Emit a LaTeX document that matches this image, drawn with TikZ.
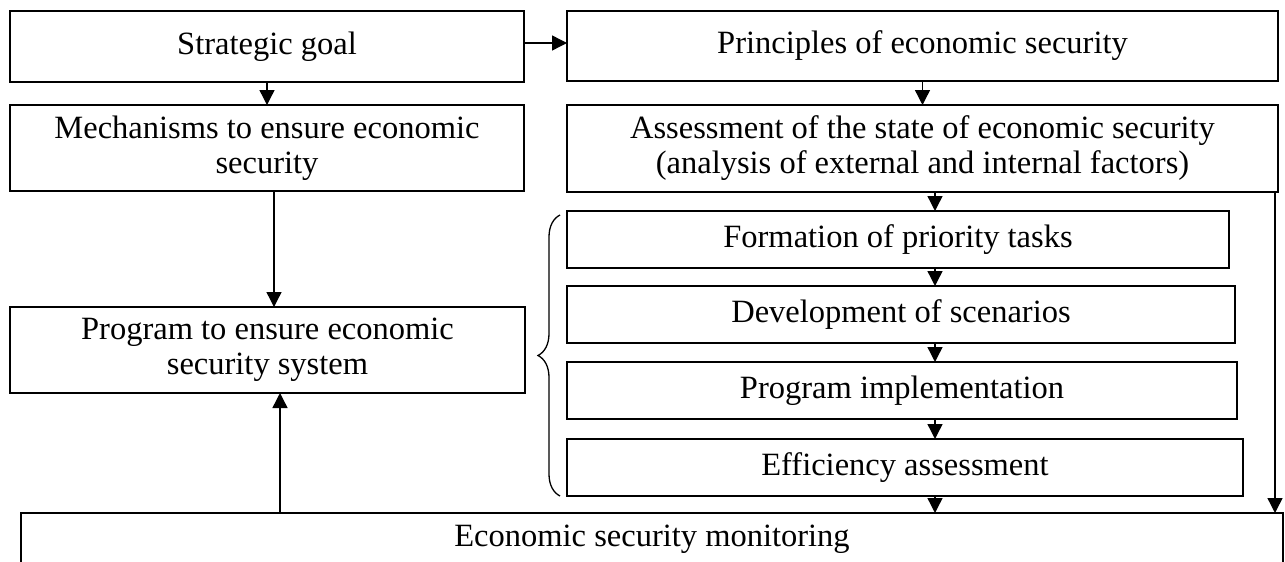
\documentclass[tikz,border=0pt]{standalone}
\usepackage{fontspec}
\setmainfont{Liberation Serif}
\usetikzlibrary{arrows.meta,decorations.pathreplacing,calc}
\begin{document}
\begin{tikzpicture}[x=1pt,y=-1pt,
  box/.style={draw, line width=1.7pt, align=center, inner sep=0pt, outer sep=0pt,
    anchor=north west, font=\fontsize{32.5}{35}\selectfont},
  arr/.style={line width=1.4pt, -{Triangle[length=15pt,width=15pt]}},
  bracestyle/.style={line width=1.3pt, decorate, decoration={brace, amplitude=22pt}}]
\useasboundingbox (0,0) rectangle (1285,562);
% top row
\node[box, minimum width=514pt, minimum height=71pt] (sg) at (10,11) {Strategic goal};
\node[box, minimum width=711pt, minimum height=70pt] (pr) at (567,11) {Principles of economic security};
% second row
\node[box, minimum width=514pt, minimum height=86pt] (me) at (10,105) {Mechanisms to ensure economic\\security};
\node[box, minimum width=711pt, minimum height=87pt] (as) at (567,105) {Assessment of the state of economic security\\(analysis of external and internal factors)};
% left program box
\node[box, minimum width=515pt, minimum height=86pt] (pg) at (10,307) {Program to ensure economic\\security system};
% stack of steps
\node[box, minimum width=662pt, minimum height=57pt] (fo) at (567,211) {Formation of priority tasks};
\node[box, minimum width=668pt, minimum height=57pt] (de) at (567,286) {Development of scenarios};
\node[box, minimum width=670pt, minimum height=57pt] (pi) at (567,362) {Program implementation};
\node[box, minimum width=676pt, minimum height=57pt] (ef) at (567,439) {Efficiency assessment};
% monitoring
\node[box, minimum width=1262pt, minimum height=53pt] (mo) at (21,513) {Economic security monitoring};
% column coordinates
\coordinate (cc) at (935,0);
\coordinate (rc) at (1275,0);
\coordinate (lc1) at (274,0);
\coordinate (lc2) at (280,0);
\coordinate (ay) at (0,43);
% connectors
\draw[arr] (sg.east |- ay) -- (pr.west |- ay);
\draw[arr] (sg.south) -- (me.north);
\draw[arr] (pr.south) -- (as.north);
\draw[arr] (me.south -| lc1) -- (pg.north -| lc1);
\draw[arr] (as.south -| cc) -- (fo.north -| cc);
\draw[arr] (fo.south -| cc) -- (de.north -| cc);
\draw[arr] (de.south -| cc) -- (pi.north -| cc);
\draw[arr] (pi.south -| cc) -- (ef.north -| cc);
\draw[arr] (ef.south -| cc) -- (mo.north -| cc);
\draw[arr] (as.south -| rc) -- (mo.north -| rc);
\draw[arr] (mo.north -| lc2) -- (pg.south -| lc2);
% brace
\coordinate (bb) at (560,496);
\coordinate (bt) at (560,215);
\draw[bracestyle] (bb) -- (bt);
\end{tikzpicture}
\end{document}
